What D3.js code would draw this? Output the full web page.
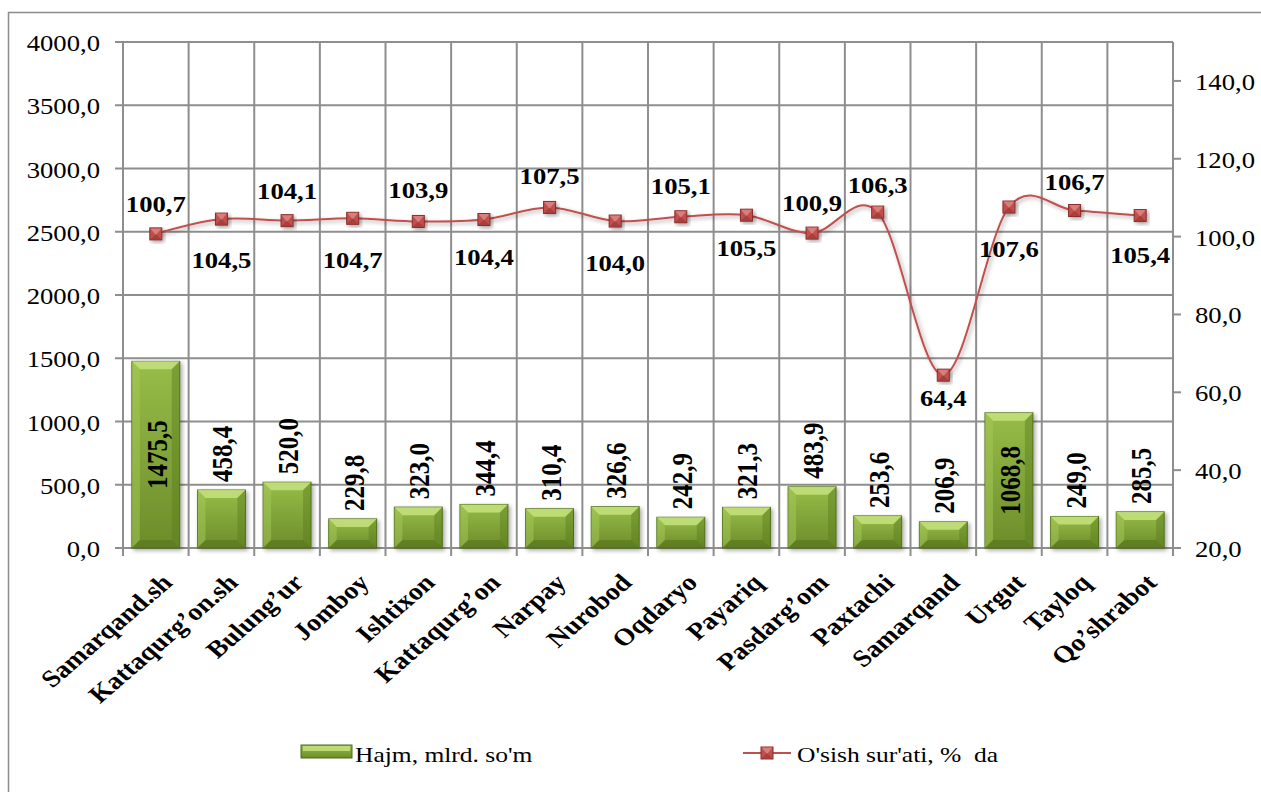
<!DOCTYPE html>
<meta charset="utf-8">
<script src="https://d3js.org/d3.v7.min.js"></script>
<style>
body { margin: 0; background: #fff; }
</style>
<div id="my_dataviz"></div>
<script>

// data
var districts = ["Samarqand.sh", "Kattaqurg\u2019on.sh", "Bulung\u2019ur", "Jomboy", "Ishtixon",
  "Kattaqurg\u2019on", "Narpay", "Nurobod", "Oqdaryo", "Payariq", "Pasdarg\u2019om",
  "Paxtachi", "Samarqand", "Urgut", "Tayloq", "Qo\u2019shrabot"];
var hajm = [1475.5, 458.4, 520.0, 229.8, 323.0, 344.4, 310.4, 326.6, 242.9, 321.3, 483.9,
  253.6, 206.9, 1068.8, 249.0, 285.5];
var osish = [100.7, 104.5, 104.1, 104.7, 103.9, 104.4, 107.5, 104.0, 105.1, 105.5, 100.9,
  106.3, 64.4, 107.6, 106.7, 105.4];
var leftTicks = [0, 500, 1000, 1500, 2000, 2500, 3000, 3500, 4000];
var rightTicks = [20, 40, 60, 80, 100, 120, 140];
var seriesNames = ["Hajm, mlrd. so'm", "O'sish sur'ati, %  da"];

// label placement of the growth labels (offset from the marker)
var lineLabelDy = [-22, 49, -22, 50, -23, 46, -23, 50, -23, 41, -22, -19, 31, 50, -21, 47];

var width = 1261, height = 792;
var plot = {left: 123, right: 1173, top: 42, bottom: 548};
var serif = "'Liberation Serif', 'Times New Roman', Tinos, serif";
var sx = 1.16; // the original picture is a little wider than tall

var svg = d3.select("#my_dataviz").append("svg")
    .attr("width", width)
    .attr("height", height);

var defs = svg.append("defs");

var g1 = defs.append("linearGradient").attr("id", "barGrad")
    .attr("x1", 0).attr("y1", 0).attr("x2", 0).attr("y2", 1);
g1.append("stop").attr("offset", "0%").attr("stop-color", "#97bd48");
g1.append("stop").attr("offset", "100%").attr("stop-color", "#6c8c2a");

var sh = defs.append("filter").attr("id", "shadow")
    .attr("x", "-20%").attr("y", "-20%").attr("width", "150%").attr("height", "150%");
sh.append("feGaussianBlur").attr("in", "SourceAlpha").attr("stdDeviation", 2.2);
sh.append("feOffset").attr("dx", 2).attr("dy", 2).attr("result", "b");
sh.append("feComponentTransfer").append("feFuncA").attr("type", "linear").attr("slope", 0.35);
var mg = sh.append("feMerge");
mg.append("feMergeNode");
mg.append("feMergeNode").attr("in", "SourceGraphic");

// outer frame
svg.append("rect")
    .attr("x", 8.5).attr("y", 12.5)
    .attr("width", 1270).attr("height", 800)
    .attr("fill", "none").attr("stroke", "#8c8c8c").attr("stroke-width", 1.5);

// scales
var x = d3.scaleBand().domain(districts).range([plot.left, plot.right]).paddingInner(0).paddingOuter(0);
var yL = d3.scaleLinear().domain([0, 4000]).range([plot.bottom, plot.top]);
var yR = d3.scaleLinear().domain([20, 150]).range([plot.bottom, plot.top]);

var grid = svg.append("g").attr("stroke", "#8e8e8e").attr("stroke-width", 2);

// horizontal gridlines (left axis)
grid.selectAll(".hg").data(leftTicks).enter().append("line")
    .attr("x1", plot.left - 8).attr("x2", plot.right)
    .attr("y1", function(d) { return yL(d); })
    .attr("y2", function(d) { return yL(d); });

// vertical gridlines at category boundaries
var bounds = districts.map(function(d) { return x(d); }).concat([plot.right]);
grid.selectAll(".vg").data(bounds).enter().append("line")
    .attr("x1", function(d) { return d; }).attr("x2", function(d) { return d; })
    .attr("y1", plot.top).attr("y2", plot.bottom + 8);

// right axis ticks
grid.selectAll(".rt").data(rightTicks).enter().append("line")
    .attr("x1", plot.right).attr("x2", plot.right + 8)
    .attr("y1", function(d) { return yR(d); })
    .attr("y2", function(d) { return yR(d); });

var fmt = function(v) { return d3.format(".1f")(v).replace(".", ","); };

// left axis labels
svg.append("g").selectAll("text").data(leftTicks).enter().append("text")
    .attr("transform", function(d) { return "translate(" + (plot.left - 23) + "," + (yL(d) + 9) + ") scale(" + sx + ",1)"; })
    .attr("text-anchor", "end")
    .style("font-family", serif)
    .style("font-size", "23px")
    .text(fmt);

// right axis labels
svg.append("g").selectAll("text").data(rightTicks).enter().append("text")
    .attr("transform", function(d) { return "translate(" + (plot.right + 22) + "," + (yR(d) + 9) + ") scale(" + sx + ",1)"; })
    .attr("text-anchor", "start")
    .style("font-family", serif)
    .style("font-size", "23px")
    .text(fmt);

// bars with bevel
var bw = x.bandwidth() * 0.73;
var bev = 8;
var bars = svg.append("g").selectAll("g").data(hajm).enter().append("g")
    .attr("filter", "url(#shadow)")
    .attr("transform", function(d, i) {
      return "translate(" + (x(districts[i]) + (x.bandwidth() - bw) / 2) + "," + yL(d) + ")";
    });
bars.append("rect")
    .attr("width", bw)
    .attr("height", function(d) { return plot.bottom - yL(d); })
    .attr("fill", "url(#barGrad)")
    .attr("stroke", "#4c6a18").attr("stroke-width", 1);
bars.append("path")
    .attr("d", function(d) {
      var h = plot.bottom - yL(d), b = Math.min(bev, h / 2);
      return "M0,0L" + bw + ",0L" + (bw - b) + "," + b + "L" + b + "," + b + "Z";
    })
    .attr("fill", "#c6e27f").attr("opacity", 0.85);
bars.append("path")
    .attr("d", function(d) {
      var h = plot.bottom - yL(d), b = Math.min(bev, h / 2);
      return "M0,0L" + b + "," + b + "L" + b + "," + (h - b) + "L0," + h + "Z";
    })
    .attr("fill", "#a6c95a").attr("opacity", 0.5);
bars.append("path")
    .attr("d", function(d) {
      var h = plot.bottom - yL(d), b = Math.min(bev, h / 2);
      return "M" + bw + ",0L" + (bw - b) + "," + b + "L" + (bw - b) + "," + (h - b) + "L" + bw + "," + h + "Z";
    })
    .attr("fill", "#5c7c1e").attr("opacity", 0.45);
bars.append("path")
    .attr("d", function(d) {
      var h = plot.bottom - yL(d), b = Math.min(bev, h / 2);
      return "M0," + h + "L" + b + "," + (h - b) + "L" + (bw - b) + "," + (h - b) + "L" + bw + "," + h + "Z";
    })
    .attr("fill", "#4f6d18").attr("opacity", 0.5);

// bar value labels
svg.append("g").selectAll("text").data(hajm).enter().append("text")
    .attr("transform", function(d, i) {
      var cx = x(districts[i]) + x.bandwidth() / 2 + 11;
      var inside = d > 1000;
      var cy = inside ? (yL(d) + plot.bottom) / 2 : yL(d) - 8;
      return "translate(" + cx + "," + cy + ") scale(" + sx + ",1) rotate(-90)";
    })
    .attr("text-anchor", function(d) { return d > 1000 ? "middle" : "start"; })
    .style("font-family", serif)
    .style("font-size", "25px")
    .style("font-weight", "bold")
    .text(fmt);

// growth line
var line = d3.line()
    .x(function(d, i) { return x(districts[i]) + x.bandwidth() / 2; })
    .y(function(d) { return yR(d); })
    .curve(d3.curveCardinal.tension(0));

svg.append("path")
    .datum(osish)
    .attr("d", line)
    .attr("fill", "none")
    .attr("stroke", "#c0504d")
    .attr("stroke-width", 2)
    .attr("filter", "url(#shadow)");

function marker(sel) {
  sel.append("rect")
    .attr("x", -6).attr("y", -6).attr("width", 12).attr("height", 12)
    .attr("fill", "#c0504d").attr("stroke", "#8a2c2a").attr("stroke-width", 1);
  sel.append("path")
    .attr("d", "M-5.5,-5.5L5.5,-5.5L0,1Z")
    .attr("fill", "#e08a87").attr("opacity", 0.8);
  sel.append("path")
    .attr("d", "M-5.5,5.5L5.5,5.5L0,0Z")
    .attr("fill", "#8e2f2c").attr("opacity", 0.5);
}

var marks = svg.append("g").selectAll("g").data(osish).enter().append("g")
    .attr("filter", "url(#shadow)")
    .attr("transform", function(d, i) {
      return "translate(" + (x(districts[i]) + x.bandwidth() / 2) + "," + yR(d) + ")";
    });
marker(marks);

// growth labels
svg.append("g").selectAll("text").data(osish).enter().append("text")
    .attr("transform", function(d, i) {
      return "translate(" + (x(districts[i]) + x.bandwidth() / 2) + "," + (yR(d) + lineLabelDy[i]) + ") scale(" + sx + ",1)";
    })
    .attr("text-anchor", "middle")
    .style("font-family", serif)
    .style("font-size", "23px")
    .style("font-weight", "bold")
    .text(fmt);

// category labels
svg.append("g").selectAll("text").data(districts).enter().append("text")
    .attr("transform", function(d) {
      return "translate(" + (x(d) + x.bandwidth() / 2 + 18) + "," + (plot.bottom + 36) + ") scale(" + sx + ",1) rotate(-45)";
    })
    .attr("text-anchor", "end")
    .style("font-family", serif)
    .style("font-size", "24px")
    .style("font-weight", "bold")
    .text(function(d) { return d; });

// legend
var leg = svg.append("g");
var lb = leg.append("g").attr("transform", "translate(301,745)");
lb.append("rect").attr("width", 51).attr("height", 13)
    .attr("fill", "url(#barGrad)").attr("stroke", "#4c6a18");
lb.append("rect").attr("x", 2).attr("y", 1).attr("width", 47).attr("height", 5)
    .attr("fill", "#c6e27f").attr("opacity", 0.85);
leg.append("text").attr("transform", "translate(355,762) scale(" + sx + ",1)")
    .style("font-family", serif)
    .style("font-size", "22px").text(seriesNames[0]);

leg.append("line").attr("x1", 743).attr("x2", 791).attr("y1", 753).attr("y2", 753)
    .attr("stroke", "#c0504d").attr("stroke-width", 2);
var lm = leg.append("g").attr("transform", "translate(767,753)");
marker(lm);
leg.append("text").attr("transform", "translate(797,762) scale(" + sx + ",1)")
    .style("font-family", serif)
    .style("font-size", "22px")
    .style("white-space", "pre")
    .text(seriesNames[1]);

</script>
